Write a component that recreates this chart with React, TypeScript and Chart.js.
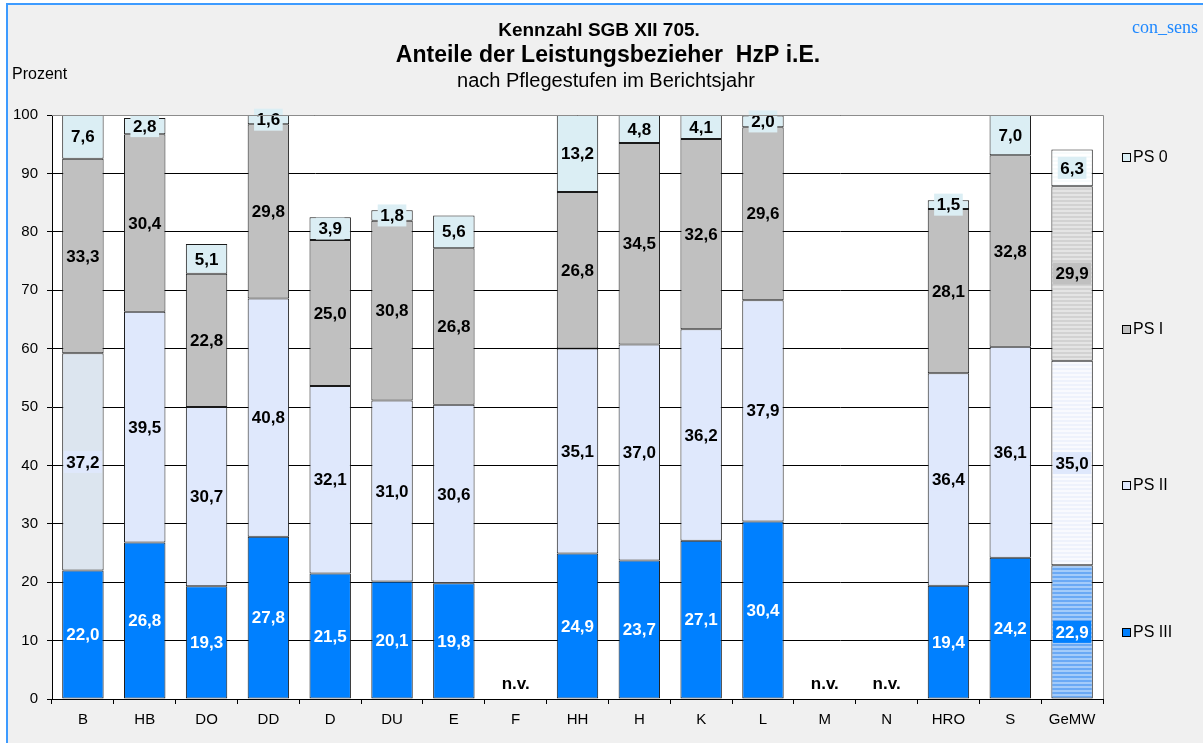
import React, { useEffect, useRef } from "react";
import { Chart, registerables } from "chart.js";

Chart.register(...registerables);

// ---------- data ----------
const categories = ["B", "HB", "DO", "DD", "D", "DU", "E", "F", "HH", "H", "K", "L", "M", "N", "HRO", "S", "GeMW"];
const ps3: (number | null)[] = [22.0, 26.8, 19.3, 27.8, 21.5, 20.1, 19.8, null, 24.9, 23.7, 27.1, 30.4, null, null, 19.4, 24.2, 22.9];
const ps2: (number | null)[] = [37.2, 39.5, 30.7, 40.8, 32.1, 31.0, 30.6, null, 35.1, 37.0, 36.2, 37.9, null, null, 36.4, 36.1, 35.0];
const ps1: (number | null)[] = [33.3, 30.4, 22.8, 29.8, 25.0, 30.8, 26.8, null, 26.8, 34.5, 32.6, 29.6, null, null, 28.1, 32.8, 29.9];
const ps0: (number | null)[] = [7.6, 2.8, 5.1, 1.6, 3.9, 1.8, 5.6, null, 13.2, 4.8, 4.1, 2.0, null, null, 1.5, 7.0, 6.3];
const seriesNames = ["PS III", "PS II", "PS I", "PS 0"];
const yTickValues = [0, 10, 20, 30, 40, 50, 60, 70, 80, 90, 100];
const titleLine1 = "Kennzahl SGB XII 705.";
const titleLine2 = "Anteile der Leistungsbezieher  HzP i.E.";
const titleLine3 = "nach Pflegestufen im Berichtsjahr";
const yAxisTitle = "Prozent";
const brand = "con_sens";
const notAvailable = "n.v.";
const averageCategory = "GeMW";

// ---------- styles ----------
const FONT = "'Liberation Sans', Arial, sans-serif";
const solidColors = ["#0080ff", "#dfe8fc", "#c0c0c0", "#dbeef4"];
const labelBg = ["#0080ff", "#dfe8fc", "#c0c0c0", "#dbeef4"];
const labelFg = ["#ffffff", "#000000", "#000000", "#000000"];
const stripePairs: [string, string][] = [
  ["#6aa9f5", "#a3cbfa"],
  ["#eef2fc", "#f9fafe"],
  ["#d2d2d2", "#e4e4e4"],
  ["#f7fbfc", "#ffffff"],
];

function makeStripes(c1: string, c2: string): CanvasPattern | string {
  const c = document.createElement("canvas");
  c.width = 4;
  c.height = 4;
  const g = c.getContext("2d");
  if (!g) return c1;
  g.fillStyle = c1;
  g.fillRect(0, 0, 4, 2);
  g.fillStyle = c2;
  g.fillRect(0, 2, 4, 2);
  const p = g.createPattern(c, "repeat");
  return p || c1;
}

const fmt = (v: number) => v.toFixed(1).replace(".", ",");

export default function App() {
  const ref = useRef<HTMLCanvasElement | null>(null);

  useEffect(() => {
    if (!ref.current) return;
    const avgIdx = categories.indexOf(averageCategory);
    const seriesData = [ps3, ps2, ps1, ps0];

    const datasets = seriesData.map((data, si) => {
      const pattern = makeStripes(stripePairs[si][0], stripePairs[si][1]);
      const colors = categories.map((_, i) => {
        if (i === avgIdx) return pattern;
        if (si === 1 && i === 0) return "#dce5ef";
        return solidColors[si];
      });
      return {
        label: seriesNames[si],
        data: data as any,
        backgroundColor: colors as any,
        borderColor: "#1a1a1a",
        borderWidth: 1,
        borderSkipped: false as any,
        barPercentage: 0.67,
        categoryPercentage: 1,
      };
    });

    const backgroundPlugin = {
      id: "plotBg",
      beforeDraw(chart: any) {
        const { ctx, chartArea } = chart;
        ctx.save();
        ctx.fillStyle = "#ffffff";
        ctx.fillRect(chartArea.left, chartArea.top, chartArea.right - chartArea.left, chartArea.bottom - chartArea.top);
        ctx.restore();
      },
      afterDraw(chart: any) {
        const { ctx, chartArea } = chart;
        ctx.save();
        ctx.strokeStyle = "#8c8c8c";
        ctx.lineWidth = 1;
        ctx.beginPath();
        ctx.moveTo(chartArea.left, chartArea.top + 0.5);
        ctx.lineTo(chartArea.right + 0.5, chartArea.top + 0.5);
        ctx.lineTo(chartArea.right + 0.5, chartArea.bottom);
        ctx.stroke();
        ctx.restore();
      },
    };

    const labelPlugin = {
      id: "segLabels",
      afterDatasetsDraw(chart: any) {
        const { ctx } = chart;
        ctx.save();
        ctx.font = `bold 17px ${FONT}`;
        ctx.textAlign = "center";
        ctx.textBaseline = "middle";
        chart.data.datasets.forEach((ds: any, si: number) => {
          const meta = chart.getDatasetMeta(si);
          meta.data.forEach((el: any, i: number) => {
            const v = ds.data[i];
            if (v === null || v === undefined) return;
            const text = fmt(v);
            const cy = (el.y + el.base) / 2;
            const w = ctx.measureText(text).width + 5;
            const h = 22;
            ctx.fillStyle = labelBg[si];
            ctx.fillRect(el.x - w / 2, cy - h / 2, w, h);
            ctx.fillStyle = labelFg[si];
            ctx.fillText(text, el.x, cy + 1);
          });
        });
        // n.v. labels
        const xs = chart.scales.x;
        const ys = chart.scales.y;
        categories.forEach((_, i) => {
          if (ps3[i] === null && ps2[i] === null && ps1[i] === null && ps0[i] === null) {
            ctx.fillStyle = "#000";
            ctx.fillText(notAvailable, xs.getPixelForValue(i), ys.getPixelForValue(0) - 15);
          }
        });
        ctx.restore();
      },
    };

    const textPlugin = {
      id: "texts",
      afterDraw(chart: any) {
        const { ctx } = chart;
        ctx.save();
        ctx.fillStyle = "#000";
        ctx.textBaseline = "middle";
        ctx.textAlign = "center";
        ctx.font = `bold 19px ${FONT}`;
        ctx.fillText(titleLine1, 599, 31);
        ctx.font = `bold 23px ${FONT}`;
        ctx.fillText(titleLine2, 608, 56);
        ctx.font = `20px ${FONT}`;
        ctx.fillText(titleLine3, 606, 81);
        ctx.textAlign = "left";
        ctx.font = `16px ${FONT}`;
        ctx.fillText(yAxisTitle, 12, 75);
        ctx.fillStyle = "#1e88ff";
        ctx.font = `18px 'Liberation Serif', 'DejaVu Serif', serif`;
        ctx.fillText(brand, 1132, 28);

        // legend
        const legendY = [157, 329, 485, 632];
        const order = [3, 2, 1, 0];
        order.forEach((si, k) => {
          const y = legendY[k];
          ctx.fillStyle = solidColors[si];
          ctx.fillRect(1122, y - 4, 9, 9);
          ctx.strokeStyle = "#000";
          ctx.lineWidth = 1;
          ctx.strokeRect(1122.5, y - 3.5, 8, 8);
          ctx.fillStyle = "#000";
          ctx.font = `16px ${FONT}`;
          ctx.fillText(seriesNames[si], 1133, y + 1);
        });
        ctx.restore();
      },
    };

    const chart = new Chart(ref.current, {
      type: "bar",
      data: { labels: categories, datasets: datasets as any },
      options: {
        animation: false,
        responsive: false,
        maintainAspectRatio: false,
        layout: { padding: { top: 115, right: 100, bottom: 0, left: 0 } },
        plugins: {
          legend: { display: false },
          tooltip: { enabled: false },
          title: { display: false },
        },
        scales: {
          x: {
            stacked: true,
            grid: { offset: true, drawOnChartArea: false, tickLength: 5, color: "#000" },
            border: { color: "#000" },
            ticks: { color: "#000", font: { family: FONT, size: 15 }, padding: 7, maxRotation: 0 },
            afterFit(scale: any) {
              scale.height = 44;
            },
          },
          y: {
            stacked: true,
            min: 0,
            max: 100,
            afterBuildTicks(scale: any) {
              scale.ticks = yTickValues.map((v) => ({ value: v }));
            },
            grid: { color: "#000", tickLength: 5 },
            border: { color: "#000" },
            ticks: { color: "#000", font: { family: FONT, size: 15 }, padding: 9 },
            afterFit(scale: any) {
              scale.width = 52;
            },
          },
        },
      },
      plugins: [backgroundPlugin, labelPlugin, textPlugin],
    });
    return () => chart.destroy();
  }, []);

  return (
    <div style={{ position: "fixed", left: 0, top: 0, width: 1203, height: 743, background: "#ffffff", overflow: "hidden" }}>
      <div style={{ position: "absolute", left: 6, top: 3, width: 1197, height: 740, background: "#f0f0f0", borderTop: "2px solid #3d9bff", borderLeft: "2px solid #3d9bff", boxSizing: "border-box" }} />
      <canvas ref={ref} width={1203} height={743} style={{ position: "absolute", left: 0, top: 0, width: 1203, height: 743 }} />
    </div>
  );
}
